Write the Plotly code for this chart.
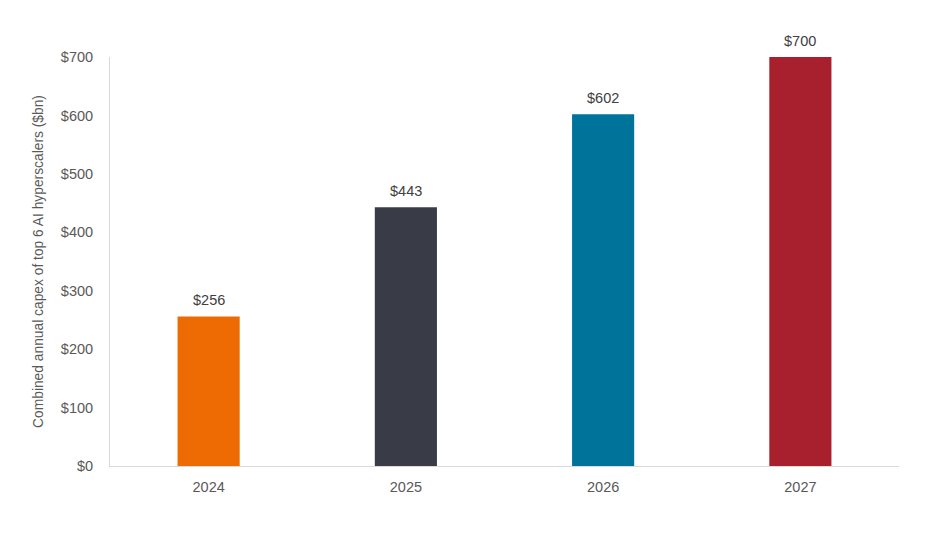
import plotly.graph_objects as go

years = ["2024", "2025", "2026", "2027"]
capex = [256, 443, 602, 700]
bar_colors = ["#EE6B04", "#393C47", "#00739A", "#A81F2E"]
ytick_vals = [0, 100, 200, 300, 400, 500, 600, 700]
ytick_text = ["$0", "$100", "$200", "$300", "$400", "$500", "$600", "$700"]
value_labels = [f"${v}" for v in capex]

FONT = "Liberation Sans, Arial, sans-serif"

fig = go.Figure(go.Bar(
    x=years, y=capex,
    marker=dict(color=bar_colors, line=dict(width=0)),
    width=0.315,
))

# value labels above bars (category index positions on the category axis)
for idx, (v, lab) in enumerate(zip(capex, value_labels)):
    fig.add_annotation(
        x=idx, y=v, text=lab, showarrow=False,
        xref="x", yref="y",
        yanchor="bottom", yshift=6,
        font=dict(size=14.5, color="#404040", family=FONT),
    )

fig.update_layout(
    width=917, height=530,
    margin=dict(l=102, r=26, t=49, b=72),
    plot_bgcolor="white", paper_bgcolor="white",
    font=dict(family=FONT, color="#595959"),
    showlegend=False,
)
fig.update_xaxes(
    type="category",
    showline=True, linecolor="#D9D9D9", linewidth=1,
    ticks="", tickfont=dict(size=14.5, color="#595959"),
    ticklabelstandoff=8,
    showgrid=False,
)
fig.update_yaxes(
    range=[0, 700], tickvals=ytick_vals, ticktext=ytick_text,
    showline=True, linecolor="#D9D9D9", linewidth=1,
    showgrid=False, zeroline=False,
    tickfont=dict(size=14.5, color="#595959"),
    ticks="", ticklabelstandoff=13,
    title=dict(text="Combined annual capex of top 6 AI hyperscalers ($bn)",
               font=dict(size=13.8, color="#595959"), standoff=14),
)

fig.write_html("out.html")
